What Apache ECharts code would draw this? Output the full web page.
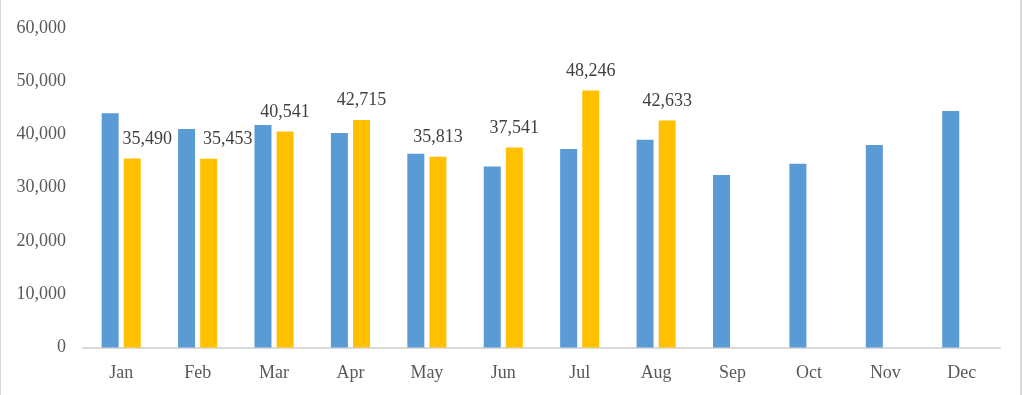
<!DOCTYPE html>
<html>
<head>
<meta charset="utf-8">
<script src="https://cdn.jsdelivr.net/npm/echarts@6/dist/echarts.min.js"></script>
<style>
  html, body { margin: 0; padding: 0; background: #fff; }
  #wrap { position: relative; width: 1023px; height: 395px; overflow: hidden; }
  #chart { position: absolute; left: 0; top: 0; width: 1023px; height: 395px; }
  .bl { position: absolute; left: 0; top: 0; width: 1px; height: 395px; background: #d9d9d9; }
  .br { position: absolute; left: 1020px; top: 0; width: 2px; height: 395px; background: #d9d9d9; }
</style>
</head>
<body>
<div id="wrap">
  <div id="chart"></div>
  <div class="bl"></div>
  <div class="br"></div>
</div>
<script>
const categories = ['Jan', 'Feb', 'Mar', 'Apr', 'May', 'Jun', 'Jul', 'Aug', 'Sep', 'Oct', 'Nov', 'Dec'];
const seriesA = [44000, 41050, 41800, 40300, 36400, 34000, 37300, 39000, 32400, 34500, 38050, 44400];
const seriesB = [35490, 35453, 40541, 42715, 35813, 37541, 48246, 42633, null, null, null, null];
const yMin = 0;
const yMax = 60000;
const yStep = 10000;

const labelShift = { 0: [15, 0], 1: [19, 0] };
const fontFamily = '"Liberation Serif", "DejaVu Serif", serif';
const fmt = v => Number(v).toLocaleString('en-US');

const chart = echarts.init(document.getElementById('chart'), null, { renderer: 'canvas' });
chart.setOption({
  animation: false,
  backgroundColor: '#ffffff',
  grid: { left: 83, right: 23, top: 28, bottom: 47.5, containLabel: false },
  xAxis: {
    type: 'category',
    data: categories,
    axisLine: { show: true, lineStyle: { color: '#d9d9d9', width: 2 } },
    axisTick: { show: false },
    axisLabel: { color: '#595959', fontFamily: fontFamily, fontSize: 18, margin: 17 },
    splitLine: { show: false }
  },
  yAxis: {
    type: 'value',
    min: yMin,
    max: yMax,
    interval: yStep,
    axisLine: { show: false },
    axisTick: { show: false },
    splitLine: { show: false },
    axisLabel: { color: '#595959', fontFamily: fontFamily, fontSize: 18, margin: 17, formatter: fmt }
  },
  series: [
    {
      type: 'bar',
      data: seriesA,
      barWidth: 17,
      barGap: '30%',
      itemStyle: { color: '#5B9BD5' }
    },
    {
      type: 'bar',
      data: seriesB.map((v, i) => labelShift[i] ? { value: v, label: { offset: labelShift[i] } } : v),
      barWidth: 17,
      itemStyle: { color: '#FFC000' },
      label: {
        show: true,
        position: 'top',
        distance: 10.5,
        color: '#404040',
        fontFamily: fontFamily,
        fontSize: 18,
        formatter: p => (p.value == null ? '' : fmt(p.value))
      }
    }
  ]
});
</script>
</body>
</html>
